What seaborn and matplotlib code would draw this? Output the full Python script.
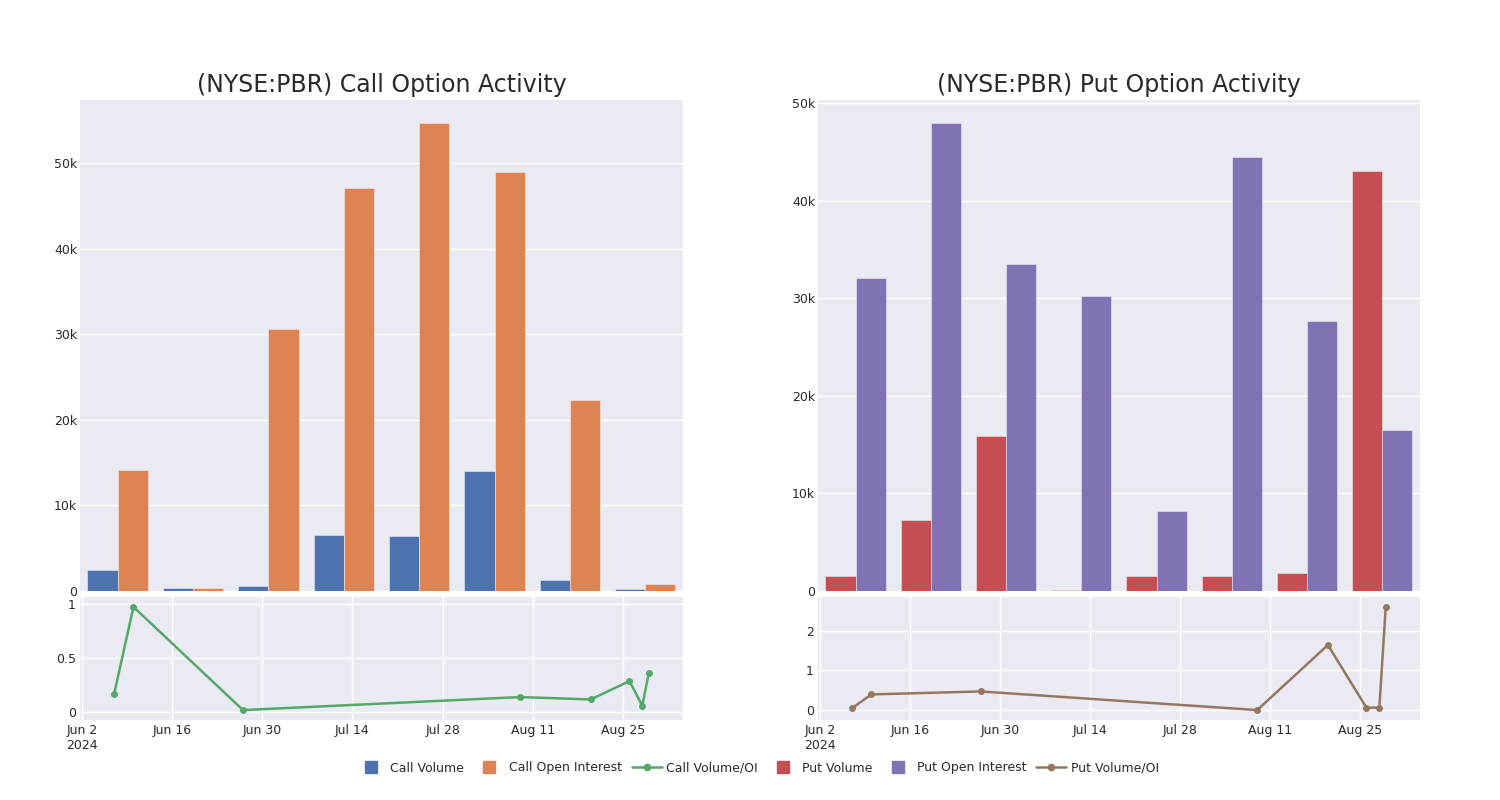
import numpy as np
import pandas as pd
import matplotlib
matplotlib.use('Agg')
import matplotlib.pyplot as plt
from matplotlib.lines import Line2D
import seaborn as sns

# 数据
weeks = ['W1', 'W2', 'W3', 'W4', 'W5', 'W6', 'W7', 'W8']
call_volume = [2380, 270, 590, 6560, 6400, 13950, 1290, 230]
call_oi = [14100, 270, 30550, 47150, 54650, 48950, 22270, 780]
put_volume = [1540, 7270, 15830, 100, 1540, 1470, 1780, 43040]
put_oi = [32110, 47940, 33550, 30230, 8220, 44480, 27690, 16520]

call_ratio_dates = ['2024-06-07', '2024-06-10', '2024-06-27', '2024-08-09',
                    '2024-08-20', '2024-08-26', '2024-08-28', '2024-08-29']
call_ratio = [0.172, 0.972, 0.022, 0.142, 0.12, 0.289, 0.062, 0.363]
put_ratio_dates = ['2024-06-07', '2024-06-10', '2024-06-27', '2024-08-09',
                   '2024-08-20', '2024-08-26', '2024-08-28', '2024-08-29']
put_ratio = [0.05, 0.395, 0.47, 0.0, 1.64, 0.06, 0.06, 2.6]

tick_dates = ['2024-06-02', '2024-06-16', '2024-06-30', '2024-07-14',
              '2024-07-28', '2024-08-11', '2024-08-25']
tick_labels = ['Jun 2\n2024', 'Jun 16', 'Jun 30', 'Jul 14', 'Jul 28', 'Aug 11', 'Aug 25']

pal = sns.color_palette('deep')
c_blue, c_orange, c_green, c_red, c_purple, c_brown = pal[0], pal[1], pal[2], pal[3], pal[4], pal[5]

sns.set_theme(style='darkgrid', rc={'axes.facecolor': '#EAEAF2', 'grid.color': 'white'})
plt.rcParams['font.family'] = ['DejaVu Sans']
text_col = '#2a2a2a'

fig = plt.figure(figsize=(15, 8), dpi=100)
ax_ct = fig.add_axes([0.0533, 0.2616, 0.402, 0.6134])
ax_cb = fig.add_axes([0.0533, 0.1, 0.402, 0.15375])
ax_pt = fig.add_axes([0.5453, 0.2616, 0.4013, 0.6134])
ax_pb = fig.add_axes([0.5453, 0.1, 0.4013, 0.15375])


def bar_panel(ax, vol, oi, names, colors, title):
    df = pd.DataFrame({'week': weeks * 2,
                       'value': vol + oi,
                       'series': [names[0]] * len(vol) + [names[1]] * len(oi)})
    sns.barplot(data=df, x='week', y='value', hue='series', palette=colors,
                saturation=1, width=0.8, edgecolor=(1, 1, 1, 0.5), linewidth=0.6,
                legend=False, ax=ax)
    ax.set_ylim(0, max(vol + oi) * 1.05)
    ax.set_xlim(-0.5, len(weeks) - 0.5)
    ax.set_yticks(np.arange(0, max(vol + oi) * 1.05, 10000))
    ax.set_yticklabels(['0' if t == 0 else '%dk' % (t // 1000) for t in ax.get_yticks()])
    ax.set_xticklabels([])
    ax.set_xlabel('')
    ax.set_ylabel('')
    ax.tick_params(axis='both', length=0, pad=2, labelsize=9, labelcolor=text_col)
    ax.set_title(title, fontsize=17, color=text_col, pad=6)
    for s in ax.spines.values():
        s.set_visible(False)


def line_panel(ax, dates, vals, color, ystep):
    df = pd.DataFrame({'date': pd.to_datetime(dates), 'ratio': vals})
    sns.lineplot(data=df, x='date', y='ratio', color=color, marker='o',
                 markersize=5, markeredgewidth=0, linewidth=1.8, ax=ax)
    d0, d1 = df['date'].min(), df['date'].max()
    pad = (d1 - d0) * 0.064
    ax.set_xlim(d0 - pad, d1 + pad)
    lo, hi = min(vals), max(vals)
    yp = (hi - lo) * 0.096
    ax.set_ylim(lo - yp, hi + yp)
    ax.set_yticks(np.arange(0, hi + yp, ystep))
    ax.set_yticklabels(['%g' % t for t in ax.get_yticks()])
    ax.set_xticks(pd.to_datetime(tick_dates))
    ax.set_xticklabels(tick_labels)
    ax.set_xlabel('')
    ax.set_ylabel('')
    ax.tick_params(axis='both', length=0, pad=3, labelsize=9, labelcolor=text_col)
    for s in ax.spines.values():
        s.set_visible(False)


bar_panel(ax_ct, call_volume, call_oi, ['Call Volume', 'Call Open Interest'],
          [c_blue, c_orange], '(NYSE:PBR) Call Option Activity')
bar_panel(ax_pt, put_volume, put_oi, ['Put Volume', 'Put Open Interest'],
          [c_red, c_purple], '(NYSE:PBR) Put Option Activity')
line_panel(ax_cb, call_ratio_dates, call_ratio, c_green, 0.5)
line_panel(ax_pb, put_ratio_dates, put_ratio, c_brown, 1)


def sq(c):
    return Line2D([], [], color=c, marker='s', markersize=8.5, linestyle='none')


def ln(c):
    return Line2D([], [], color=c, marker='o', markersize=4.5, linewidth=1.8)


handles = [sq(c_blue), sq(c_orange), ln(c_green), sq(c_red), sq(c_purple), ln(c_brown)]
labels = ['Call Volume', 'Call Open Interest', 'Call Volume/OI',
          'Put Volume', 'Put Open Interest', 'Put Volume/OI']
fig.legend(handles, labels, loc='center', bbox_to_anchor=(0.505, 0.04), ncol=6,
           frameon=False, fontsize=9, handlelength=2.4, handletextpad=0.35,
           columnspacing=0.8, labelcolor=text_col)

fig.savefig('out.png', dpi=100, facecolor='white')
